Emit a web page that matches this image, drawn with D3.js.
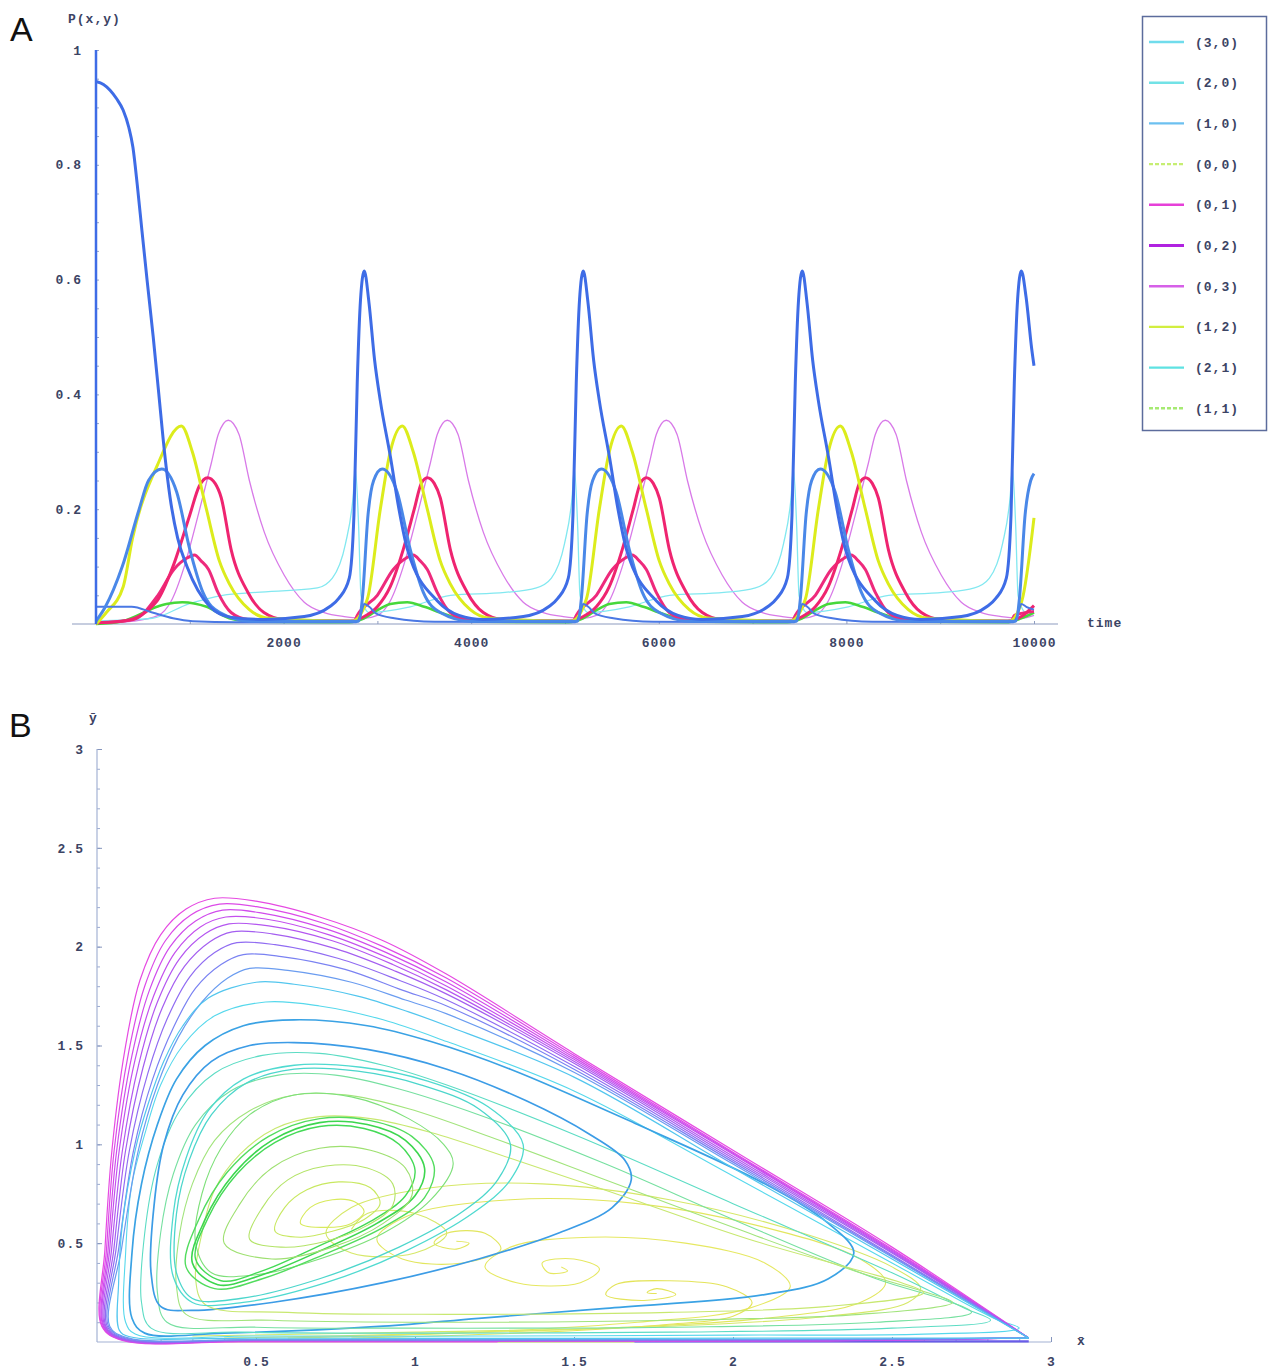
<!DOCTYPE html>
<html>
<head>
<meta charset="utf-8">
<script src="https://cdn.jsdelivr.net/npm/d3@7"></script>
<style>
  body { margin: 0; background: #fff; }
  text { font-family: "Liberation Mono", "DejaVu Sans Mono", monospace; font-size: 13px; font-weight: bold; fill: #3c4464; letter-spacing: 1px; }
  .panel { font-family: "Liberation Sans", Arial, sans-serif; font-size: 34px; font-weight: normal; fill: #111; letter-spacing: 0; }
</style>
</head>
<body>
<svg id="fig" width="1268" height="1372"></svg>
<script>
// ---------- panel A : P(x,y) against time ----------
const timeTicks = [2000, 4000, 6000, 8000, 10000];
const probTicks = [0.2, 0.4, 0.6, 0.8, 1];
const legendKeys = ["(3,0)", "(2,0)", "(1,0)", "(0,0)", "(0,1)", "(0,2)", "(0,3)", "(1,2)", "(2,1)", "(1,1)"];

const tallBlue = [[0,0.945],[80,0.94],[150,0.93],[220,0.915],[290,0.895],[350,0.865],[394,0.83],[440,0.765],[490,0.685],[544,0.6],[610,0.5],[670,0.4],[730,0.3],[790,0.22],[870,0.15],[970,0.1],[1215,0.03],[1430,0.012],[1790,0.008],[2220,0.013],[2490,0.03],[2590,0.045],[2700,0.08],[2750,0.19],[2785,0.42],[2820,0.565],[2860,0.615],[2910,0.56],[2970,0.46],[3030,0.39],[3140,0.29],[3230,0.2],[3320,0.13],[3640,0.04],[3870,0.015],[4125,0.008],[4555,0.013],[4825,0.03],[4925,0.045],[5035,0.08],[5085,0.19],[5120,0.42],[5155,0.565],[5195,0.615],[5245,0.56],[5305,0.46],[5365,0.39],[5475,0.29],[5565,0.2],[5655,0.13],[5975,0.04],[6205,0.015],[6460,0.008],[6890,0.013],[7160,0.03],[7260,0.045],[7370,0.08],[7420,0.19],[7455,0.42],[7490,0.565],[7530,0.615],[7580,0.56],[7640,0.46],[7700,0.39],[7810,0.29],[7900,0.2],[7990,0.13],[8310,0.04],[8540,0.015],[8795,0.008],[9225,0.013],[9495,0.03],[9595,0.045],[9705,0.08],[9755,0.19],[9790,0.42],[9825,0.565],[9865,0.615],[9915,0.57],[9975,0.48],[10000,0.45]];
const midBlue = [[0,0.005],[100,0.03],[280,0.1],[460,0.2],[560,0.25],[700,0.27],[860,0.23],[1000,0.13],[1140,0.055],[1320,0.02],[1640,0.005],[2800,0.005],[2840,0.045],[2900,0.19],[2960,0.25],[3050,0.27],[3210,0.23],[3350,0.13],[3490,0.055],[3670,0.02],[3990,0.005],[5135,0.005],[5175,0.045],[5235,0.19],[5295,0.25],[5385,0.27],[5545,0.23],[5685,0.13],[5825,0.055],[6005,0.02],[6325,0.005],[7470,0.005],[7510,0.045],[7570,0.19],[7630,0.25],[7720,0.27],[7880,0.23],[8020,0.13],[8160,0.055],[8340,0.02],[8660,0.005],[9805,0.005],[9845,0.045],[9905,0.19],[9965,0.25],[10000,0.262]];
const lowBlue = [[0,0.03],[380,0.03],[600,0.02],[820,0.01],[1030,0.005],[1500,0.003],[2775,0.003],[2828,0.02],[2860,0.035],[2913,0.03],[2988,0.018],[3180,0.01],[3606,0.004],[5110,0.003],[5163,0.02],[5195,0.035],[5248,0.03],[5323,0.018],[5515,0.01],[5941,0.004],[7445,0.003],[7498,0.02],[7530,0.035],[7583,0.03],[7658,0.018],[7850,0.01],[8276,0.004],[9780,0.003],[9833,0.02],[9865,0.035],[9918,0.03],[10000,0.025]];
const yellowSeries = [[0,0],[110,0.02],[290,0.065],[390,0.15],[650,0.275],[910,0.345],[1027,0.3],[1177,0.2],[1315,0.11],[1422,0.07],[1635,0.025],[1848,0.01],[2732,0.005],[2892,0.043],[3031,0.2],[3137,0.3],[3265,0.345],[3382,0.3],[3532,0.2],[3670,0.11],[3777,0.07],[3990,0.025],[4203,0.01],[5067,0.005],[5227,0.043],[5366,0.2],[5472,0.3],[5600,0.345],[5717,0.3],[5867,0.2],[6005,0.11],[6112,0.07],[6325,0.025],[6538,0.01],[7402,0.005],[7562,0.043],[7701,0.2],[7807,0.3],[7935,0.345],[8052,0.3],[8202,0.2],[8340,0.11],[8447,0.07],[8660,0.025],[8873,0.01],[9737,0.005],[9870,0.04],[10000,0.185]];
const pinkSeries = [[0,0.002],[300,0.005],[650,0.04],[820,0.1],[1000,0.19],[1100,0.24],[1190,0.255],[1270,0.245],[1335,0.22],[1440,0.13],[1620,0.055],[1790,0.02],[2020,0.007],[2711,0.005],[2860,0.013],[2999,0.03],[3137,0.065],[3276,0.13],[3393,0.2],[3468,0.245],[3532,0.255],[3606,0.245],[3670,0.22],[3777,0.13],[3958,0.055],[4129,0.02],[4352,0.007],[5046,0.005],[5195,0.013],[5334,0.03],[5472,0.065],[5611,0.13],[5728,0.2],[5803,0.245],[5867,0.255],[5941,0.245],[6005,0.22],[6112,0.13],[6293,0.055],[6464,0.02],[6687,0.007],[7381,0.005],[7530,0.013],[7669,0.03],[7807,0.065],[7946,0.13],[8063,0.2],[8138,0.245],[8202,0.255],[8276,0.245],[8340,0.22],[8447,0.13],[8628,0.055],[8799,0.02],[9022,0.007],[9716,0.005],[9865,0.013],[10000,0.032]];
const pinkLow = [[0,0.002],[400,0.008],[660,0.05],[830,0.095],[970,0.115],[1050,0.12],[1120,0.11],[1200,0.095],[1300,0.055],[1440,0.02],[1620,0.008],[2753,0.005],[2785,0.015],[2999,0.05],[3169,0.095],[3308,0.115],[3382,0.12],[3457,0.11],[3532,0.095],[3638,0.055],[3777,0.02],[3958,0.008],[5088,0.005],[5120,0.015],[5334,0.05],[5504,0.095],[5643,0.115],[5717,0.12],[5792,0.11],[5867,0.095],[5973,0.055],[6112,0.02],[6293,0.008],[7423,0.005],[7455,0.015],[7669,0.05],[7839,0.095],[7978,0.115],[8052,0.12],[8127,0.11],[8202,0.095],[8308,0.055],[8447,0.02],[8628,0.008],[9758,0.005],[9790,0.015],[10000,0.022]];
const violetSeries = [[0,0.001],[400,0.005],[664,0.015],[802,0.04],[941,0.1],[1090,0.19],[1229,0.28],[1303,0.33],[1410,0.355],[1525,0.33],[1635,0.25],[1794,0.16],[2007,0.085],[2220,0.038],[2433,0.02],[2646,0.013],[2860,0.01],[2999,0.015],[3137,0.04],[3276,0.1],[3425,0.19],[3564,0.28],[3638,0.33],[3745,0.355],[3860,0.33],[3970,0.25],[4129,0.16],[4342,0.085],[4555,0.038],[4768,0.02],[4981,0.013],[5195,0.01],[5334,0.015],[5472,0.04],[5611,0.1],[5760,0.19],[5899,0.28],[5973,0.33],[6080,0.355],[6195,0.33],[6305,0.25],[6464,0.16],[6677,0.085],[6890,0.038],[7103,0.02],[7316,0.013],[7530,0.01],[7669,0.015],[7807,0.04],[7946,0.1],[8095,0.19],[8234,0.28],[8308,0.33],[8415,0.355],[8530,0.33],[8640,0.25],[8799,0.16],[9012,0.085],[9225,0.038],[9438,0.02],[9651,0.013],[9865,0.01],[10000,0.015]];
const cyanSeries = [[0,0.005],[600,0.01],[990,0.035],[1350,0.05],[1710,0.055],[2360,0.063],[2520,0.08],[2660,0.14],[2740,0.22],[2765,0.27],[2800,0.17],[2825,0.05],[2860,0.03],[2910,0.02],[3350,0.03],[3780,0.05],[4360,0.055],[4695,0.063],[4855,0.08],[4995,0.14],[5075,0.22],[5100,0.27],[5135,0.17],[5160,0.05],[5195,0.03],[5245,0.02],[5685,0.03],[6115,0.05],[6695,0.055],[7030,0.063],[7190,0.08],[7330,0.14],[7410,0.22],[7435,0.27],[7470,0.17],[7495,0.05],[7530,0.03],[7580,0.02],[8020,0.03],[8450,0.05],[9030,0.055],[9365,0.063],[9525,0.08],[9665,0.14],[9745,0.22],[9770,0.27],[9805,0.17],[9830,0.05],[9865,0.03],[9915,0.02],[10000,0.022]];
const greenSeries = [[0,0],[280,0.005],[650,0.03],[750,0.035],[920,0.038],[1180,0.03],[1420,0.01],[1700,0.004],[2700,0.003],[2860,0.01],[3009,0.025],[3137,0.035],[3318,0.038],[3500,0.03],[3670,0.02],[3851,0.01],[4139,0.004],[5035,0.003],[5195,0.01],[5344,0.025],[5472,0.035],[5653,0.038],[5835,0.03],[6005,0.02],[6186,0.01],[6474,0.004],[7370,0.003],[7530,0.01],[7679,0.025],[7807,0.035],[7988,0.038],[8170,0.03],[8340,0.02],[8521,0.01],[8809,0.004],[9705,0.003],[9865,0.01],[10000,0.02]];

// ---------- panel B : phase plane (x bar, y bar) ----------
const phaseTicks = [0.5, 1, 1.5, 2, 2.5, 3];

// trajectories that run all the way into the corner at x+y=3
const cornerLoops = [
  [[2.93,0.02],[2.3,0.006],[1.4,0.004],[0.5,0.004],[0.08,0.008],[0.015,0.08],[0.025,0.47],[0.047,0.97],[0.088,1.48],[0.135,1.83],[0.2,2.06],[0.28,2.19],[0.37,2.245],[0.5,2.23],[0.7,2.15],[0.9,2.03],[1.1,1.86],[1.5,1.46],[2.0,0.97],[2.5,0.48],[2.93,0.02]],
  [[2.93,0.02],[2.3,0.007],[1.4,0.005],[0.5,0.005],[0.08,0.01],[0.017,0.08],[0.03,0.47],[0.054,0.97],[0.1,1.47],[0.15,1.8],[0.215,2.03],[0.295,2.16],[0.385,2.215],[0.51,2.2],[0.71,2.12],[0.9,2.0],[1.1,1.84],[1.5,1.45],[2.0,0.96],[2.5,0.47],[2.93,0.02]],
  [[2.93,0.02],[2.3,0.008],[1.4,0.006],[0.5,0.006],[0.08,0.012],[0.02,0.08],[0.035,0.47],[0.062,0.97],[0.11,1.45],[0.165,1.78],[0.23,2.0],[0.31,2.13],[0.395,2.185],[0.52,2.17],[0.72,2.09],[0.91,1.97],[1.1,1.82],[1.5,1.44],[2.0,0.955],[2.5,0.465],[2.93,0.02]],
  [[2.93,0.02],[2.3,0.009],[1.4,0.007],[0.5,0.007],[0.08,0.013],[0.022,0.08],[0.04,0.47],[0.07,0.97],[0.12,1.43],[0.178,1.75],[0.245,1.97],[0.325,2.1],[0.405,2.15],[0.53,2.14],[0.73,2.06],[0.92,1.94],[1.1,1.8],[1.5,1.43],[2.0,0.95],[2.5,0.46],[2.93,0.02]],
  [[2.93,0.02],[2.3,0.01],[1.4,0.008],[0.5,0.008],[0.08,0.015],[0.025,0.08],[0.046,0.47],[0.08,0.97],[0.132,1.41],[0.19,1.72],[0.26,1.94],[0.34,2.065],[0.415,2.115],[0.54,2.105],[0.74,2.03],[0.93,1.91],[1.1,1.78],[1.5,1.42],[2.0,0.94],[2.5,0.455],[2.93,0.02]],
  [[2.93,0.02],[2.3,0.011],[1.4,0.009],[0.5,0.009],[0.08,0.016],[0.028,0.08],[0.053,0.47],[0.09,0.97],[0.145,1.39],[0.205,1.69],[0.275,1.9],[0.355,2.025],[0.425,2.075],[0.55,2.065],[0.75,1.99],[0.94,1.875],[1.1,1.76],[1.5,1.41],[2.0,0.93],[2.5,0.45],[2.93,0.02]],
  [[2.93,0.02],[2.3,0.012],[1.4,0.01],[0.5,0.01],[0.085,0.018],[0.032,0.08],[0.06,0.47],[0.102,0.97],[0.16,1.36],[0.222,1.64],[0.293,1.85],[0.37,1.97],[0.44,2.02],[0.56,2.01],[0.76,1.94],[0.95,1.83],[1.1,1.73],[1.5,1.395],[2.0,0.92],[2.5,0.44],[2.93,0.02]],
  [[2.93,0.02],[2.3,0.013],[1.4,0.011],[0.5,0.011],[0.09,0.02],[0.036,0.08],[0.068,0.47],[0.115,0.97],[0.175,1.33],[0.24,1.59],[0.31,1.79],[0.39,1.91],[0.46,1.96],[0.58,1.95],[0.78,1.885],[0.96,1.78],[1.1,1.7],[1.5,1.38],[2.0,0.91],[2.5,0.435],[2.93,0.02]],
  [[2.93,0.02],[2.3,0.014],[1.4,0.012],[0.5,0.012],[0.095,0.022],[0.04,0.08],[0.077,0.47],[0.13,0.97],[0.19,1.3],[0.255,1.54],[0.33,1.72],[0.41,1.84],[0.48,1.89],[0.6,1.88],[0.8,1.82],[0.97,1.73],[1.1,1.66],[1.5,1.365],[2.0,0.9],[2.5,0.43],[2.93,0.02]],
  [[2.93,0.02],[2.3,0.02],[1.4,0.018],[0.5,0.02],[0.1,0.028],[0.07,0.06],[0.068,0.3],[0.08,0.6],[0.12,0.97],[0.16,1.2],[0.21,1.42],[0.27,1.6],[0.35,1.74],[0.5,1.82],[0.62,1.81],[0.82,1.75],[0.98,1.67],[1.1,1.6],[1.5,1.34],[2.0,0.88],[2.5,0.42],[2.93,0.02]]
];
const cornerColors = ["#e64ae2", "#dc4ae8", "#d04cec", "#c450ee", "#b456f0", "#a45ef0", "#906cf2", "#7a82f2", "#6a9cf0", "#52c6ee"];

// trajectories that turn back before the corner (closed loops)
const innerLoops = [
  [[2.9,0.07],[2.6,0.04],[2.0,0.035],[1.2,0.03],[0.5,0.03],[0.12,0.04],[0.09,0.1],[0.09,0.45],[0.11,0.8],[0.15,1.05],[0.2,1.3],[0.27,1.5],[0.37,1.65],[0.53,1.72],[0.7,1.7],[0.9,1.63],[1.1,1.52],[1.5,1.27],[2.0,0.84],[2.5,0.4],[2.82,0.12]],
  [[2.38,0.45],[2.3,0.32],[2.1,0.24],[1.6,0.17],[1.2,0.12],[0.9,0.08],[0.4,0.045],[0.15,0.045],[0.11,0.12],[0.11,0.45],[0.14,0.8],[0.19,1.1],[0.25,1.33],[0.34,1.5],[0.46,1.6],[0.62,1.63],[0.85,1.6],[1.05,1.52],[1.3,1.38],[1.7,1.1],[2.1,0.8],[2.3,0.6]],
  [[2.81,0.11],[2.5,0.07],[1.8,0.05],[1.0,0.045],[0.45,0.05],[0.17,0.07],[0.14,0.2],[0.15,0.55],[0.19,0.9],[0.26,1.17],[0.37,1.36],[0.52,1.45],[0.7,1.46],[0.9,1.4],[1.1,1.3],[1.5,1.05],[2.0,0.7],[2.5,0.35],[2.73,0.17]],
  [[2.75,0.15],[2.45,0.1],[1.8,0.075],[1.0,0.07],[0.5,0.075],[0.22,0.1],[0.19,0.25],[0.2,0.55],[0.24,0.85],[0.31,1.1],[0.42,1.27],[0.57,1.35],[0.75,1.35],[0.95,1.28],[1.2,1.15],[1.6,0.9],[2.0,0.62],[2.45,0.32],[2.67,0.21]],
  [[1.68,0.82],[1.62,0.68],[1.45,0.55],[1.2,0.42],[0.9,0.3],[0.55,0.2],[0.3,0.16],[0.2,0.18],[0.17,0.35],[0.18,0.7],[0.21,1.0],[0.27,1.25],[0.36,1.42],[0.48,1.5],[0.62,1.515],[0.85,1.48],[1.1,1.38],[1.35,1.22],[1.55,1.05],[1.66,0.92]],
  [[2.69,0.2],[2.4,0.14],[1.8,0.11],[1.0,0.1],[0.55,0.11],[0.28,0.14],[0.25,0.28],[0.26,0.55],[0.3,0.8],[0.37,1.02],[0.48,1.17],[0.62,1.25],[0.78,1.25],[0.98,1.18],[1.25,1.03],[1.6,0.82],[2.0,0.58],[2.4,0.35],[2.61,0.25]],
  [[2.6,0.25],[2.3,0.18],[1.8,0.15],[1.1,0.14],[0.6,0.15],[0.34,0.19],[0.31,0.32],[0.33,0.55],[0.37,0.77],[0.45,0.95],[0.56,1.08],[0.7,1.14],[0.86,1.13],[1.05,1.06],[1.3,0.93],[1.65,0.74],[2.05,0.52],[2.4,0.36],[2.53,0.3]],
  [[1.3,1.0],[1.26,0.82],[1.15,0.66],[0.95,0.48],[0.7,0.32],[0.45,0.22],[0.3,0.22],[0.25,0.35],[0.25,0.65],[0.29,0.92],[0.36,1.15],[0.47,1.31],[0.62,1.38],[0.82,1.37],[1.02,1.3],[1.2,1.18]],
  [[1.34,1.0],[1.3,0.82],[1.18,0.65],[0.97,0.46],[0.72,0.3],[0.46,0.2],[0.3,0.2],[0.24,0.33],[0.24,0.65],[0.28,0.93],[0.35,1.17],[0.46,1.33],[0.62,1.4],[0.83,1.39],[1.04,1.32],[1.23,1.19]],
  [[1.12,0.9],[1.05,0.72],[0.9,0.55],[0.7,0.42],[0.5,0.34],[0.36,0.35],[0.31,0.5],[0.33,0.75],[0.39,0.98],[0.48,1.15],[0.62,1.25],[0.8,1.24],[0.98,1.13],[1.09,1.0]],
  [[0.3,0.4],[0.34,0.62],[0.43,0.85],[0.55,1.02],[0.7,1.11],[0.85,1.1],[0.97,1.02],[1.03,0.88],[1.0,0.74],[0.88,0.6],[0.7,0.46],[0.52,0.34],[0.38,0.29]],
  [[0.31,0.42],[0.35,0.63],[0.44,0.85],[0.56,1.01],[0.7,1.09],[0.84,1.08],[0.95,1.0],[1.0,0.87],[0.97,0.74],[0.86,0.61],[0.69,0.48],[0.52,0.36],[0.39,0.31]],
  [[0.28,0.38],[0.32,0.62],[0.41,0.86],[0.54,1.04],[0.7,1.13],[0.86,1.12],[0.99,1.04],[1.06,0.89],[1.03,0.73],[0.9,0.58],[0.71,0.44],[0.52,0.32],[0.37,0.27]],
  [[0.4,0.5],[0.45,0.7],[0.55,0.88],[0.7,0.98],[0.86,0.97],[0.97,0.88],[0.99,0.74],[0.9,0.6],[0.74,0.48],[0.55,0.42]],
  [[0.48,0.52],[0.52,0.68],[0.6,0.82],[0.72,0.89],[0.85,0.88],[0.93,0.8],[0.93,0.69],[0.85,0.59],[0.72,0.51],[0.58,0.48]],
  [[0.56,0.56],[0.59,0.68],[0.66,0.77],[0.76,0.81],[0.86,0.78],[0.89,0.7],[0.84,0.62],[0.74,0.56],[0.64,0.53]],
  [[0.64,0.6],[0.67,0.68],[0.74,0.72],[0.81,0.71],[0.84,0.66],[0.8,0.6],[0.72,0.58]]
];
const innerColors = ["#56d8ec", "#3aa2e4", "#5cdcc4", "#76e0a0", "#3c9ce6", "#a2e47c", "#c8e870", "#4cd6cc", "#50dad0", "#7ee07a", "#3cd64e", "#44da56", "#52dc5e", "#9ee070", "#b4e468", "#c8e860", "#d8ea5c"];
const innerWidths = [1.1, 1.7, 1.1, 1.1, 1.7, 1.1, 1.1, 1.3, 1.3, 1.1, 1.6, 1.4, 1.4, 1.1, 1.1, 1.1, 1.1];

// trajectories that settle into small spirals
const spiralPaths = [
  [[0.4,0.02],[1.0,0.04],[1.6,0.07],[2.1,0.12],[2.4,0.2],[2.48,0.3],[2.4,0.42],[2.1,0.58],[1.7,0.7],[1.3,0.72],[0.98,0.64],[0.88,0.52],[0.96,0.42],[1.15,0.4],[1.27,0.47],[1.22,0.55],[1.1,0.55],[1.06,0.5],[1.13,0.47],[1.17,0.5],[1.13,0.51]],
  [[0.6,0.02],[1.2,0.05],[1.7,0.1],[2.05,0.17],[2.18,0.28],[2.1,0.4],[1.85,0.5],[1.55,0.53],[1.3,0.48],[1.22,0.38],[1.32,0.3],[1.52,0.3],[1.58,0.37],[1.5,0.42],[1.4,0.4],[1.42,0.35],[1.48,0.36],[1.46,0.38]],
  [[0.8,0.02],[1.4,0.05],[1.8,0.09],[2.0,0.13],[2.06,0.2],[1.98,0.28],[1.8,0.31],[1.63,0.29],[1.6,0.24],[1.72,0.21],[1.82,0.24],[1.76,0.27],[1.73,0.25],[1.76,0.245]],
  [[0.3,0.03],[1.0,0.05],[1.8,0.08],[2.3,0.13],[2.55,0.2],[2.59,0.27],[2.5,0.38],[2.2,0.56],[1.8,0.72],[1.4,0.8],[1.05,0.78],[0.8,0.68],[0.72,0.55],[0.8,0.45],[1.0,0.45],[1.1,0.55],[1.0,0.65],[0.85,0.65],[0.8,0.57]]
];
const spiralColors = ["#e2e65e", "#e6e862", "#e4e45a", "#d6e868"];

// coloured stretches lying on the x axis
const axisStretches = [[[0.32,0.003],[1.26,0.003]], [[1.26,0.003],[1.69,0.003]], [[1.69,0.003],[2.93,0.003]]];
const axisStretchColors = ["#f058c4", "#cfe86a", "#6a5ce8"];

// ---------------- drawing ----------------
const svg = d3.select('#fig');
svg.append('rect').attr('width', 1268).attr('height', 1372).attr('fill', '#fff');

const xA = d3.scaleLinear().domain([0, 10000]).range([96, 1034]);
const yA = d3.scaleLinear().domain([0, 1]).range([624, 50]);

const gA = svg.append('g');

svg.append('text').attr('class', 'panel').attr('x', 10).attr('y', 41).text('A');

// x axis of A
gA.append('line')
    .attr('x1', 72).attr('x2', 1058).attr('y1', yA(0)).attr('y2', yA(0))
    .attr('stroke', '#8e9cc0').attr('stroke-width', 1.2);
const axAx = gA.append('g').attr('transform', `translate(0, ${yA(0)})`)
    .call(d3.axisTop(xA).tickValues(d3.range(1000, 10001, 1000)).tickSize(3).tickFormat(''));
axAx.select('.domain').remove();
axAx.selectAll('line').attr('stroke', '#8e9cc0');
const axAxLab = gA.append('g').attr('transform', `translate(0, ${yA(0)})`)
    .call(d3.axisBottom(xA).tickValues(timeTicks).tickSize(0).tickPadding(14).tickFormat(d3.format('d')));
axAxLab.select('.domain').remove();
axAxLab.selectAll('text').attr('font-size', 13).attr('font-family', null).attr('fill', null);

// y axis of A
const axAy = gA.append('g').attr('transform', `translate(${xA(0)}, 0)`)
    .call(d3.axisRight(yA).tickValues(d3.range(0.05, 1.001, 0.05)).tickSize(3).tickFormat(''));
axAy.select('.domain').remove();
axAy.selectAll('line').attr('stroke', '#9aa6c6');
const axAyLab = gA.append('g').attr('transform', `translate(${xA(0)}, 0)`)
    .call(d3.axisLeft(yA).tickValues(probTicks).tickSize(0).tickPadding(14)
        .tickFormat(d => d === 1 ? '1' : d3.format('.1f')(d)));
axAyLab.select('.domain').remove();
axAyLab.selectAll('text').attr('font-size', 13).attr('font-family', null).attr('fill', null);

gA.append('text').attr('x', 68).attr('y', 23).attr('font-size', 12).text('P(x,y)');
gA.append('text').attr('x', 1087).attr('y', 627).text('time');

const lineA = d3.line().x(d => xA(d[0])).y(d => yA(d[1])).curve(d3.curveMonotoneX);

const seriesA = [
  { data: violetSeries, color: '#d87ae8', w: 1.3 },
  { data: cyanSeries, color: '#82e8f0', w: 1.3 },
  { data: greenSeries, color: '#46d83a', w: 2.6 },
  { data: pinkLow, color: '#ee2a7c', w: 3 },
  { data: pinkSeries, color: '#ef2470', w: 3 },
  { data: yellowSeries, color: '#dcec1c', w: 3 },
  { data: lowBlue, color: '#4a78e4', w: 2 },
  { data: midBlue, color: '#4a88e8', w: 3 },
  { data: tallBlue, color: '#3e6ce6', w: 3 }
];
gA.selectAll('path.series')
    .data(seriesA)
    .enter()
    .append('path')
    .attr('class', 'series')
    .attr('fill', 'none')
    .attr('stroke', d => d.color)
    .attr('stroke-width', d => d.w)
    .attr('stroke-linejoin', 'round')
    .attr('d', d => lineA(d.data));

// blue vertical axis line (drawn over the start of the curves)
gA.append('line')
    .attr('x1', xA(0)).attr('x2', xA(0)).attr('y1', yA(0)).attr('y2', yA(1))
    .attr('stroke', '#3e6ce6').attr('stroke-width', 2.5);

// legend
const legendColors = ['#70dcec', '#72e2e6', '#6cc0f0', '#c6ee72', '#e640d8', '#b022e0', '#d660e8', '#d2ee40', '#5ee2e2', '#a6ea72'];
const legend = svg.append('g');
legend.append('rect')
    .attr('x', 1142.5).attr('y', 16.5).attr('width', 124).attr('height', 414)
    .attr('fill', '#fff').attr('stroke', '#5c6c9c').attr('stroke-width', 1.5);
const legendRows = legend.selectAll('g.row')
    .data(legendKeys)
    .enter()
    .append('g')
    .attr('class', 'row')
    .attr('transform', (d, i) => `translate(0, ${42 + i * 40.7})`);
legendRows.append('line')
    .attr('x1', 1149).attr('x2', 1184).attr('y1', 0).attr('y2', 0)
    .attr('stroke', (d, i) => legendColors[i])
    .attr('stroke-width', (d, i) => i === 5 ? 3.2 : 2.4)
    .attr('stroke-dasharray', (d, i) => (i === 3 || i === 9) ? '4 2' : null);
legendRows.append('text')
    .attr('x', 1195).attr('y', 4.5)
    .text(d => d);

// ---------------- panel B ----------------
const xB = d3.scaleLinear().domain([0, 3]).range([97, 1051]);
const yB = d3.scaleLinear().domain([0, 3]).range([1342, 749]);
const gB = svg.append('g');

svg.append('text').attr('class', 'panel').attr('x', 9).attr('y', 737).text('B');

const axBx = gB.append('g').attr('transform', `translate(0, ${yB(0)})`)
    .call(d3.axisTop(xB).tickValues(d3.range(0.1, 3.001, 0.1)).tickSize(3).tickFormat(''));
axBx.selectAll('line').attr('stroke', '#9cabd0');
axBx.select('.domain').remove();
const axBxMaj = gB.append('g').attr('transform', `translate(0, ${yB(0)})`)
    .call(d3.axisTop(xB).tickValues(phaseTicks).tickSize(5).tickFormat(''));
axBxMaj.selectAll('line').attr('stroke', '#8494bc');
axBxMaj.select('.domain').remove();
const axBxLab = gB.append('g').attr('transform', `translate(0, ${yB(0)})`)
    .call(d3.axisBottom(xB).tickValues(phaseTicks).tickSize(0).tickPadding(15).tickFormat(d3.format('~g')));
axBxLab.select('.domain').remove();
axBxLab.selectAll('text').attr('font-size', 13).attr('font-family', null).attr('fill', null);

const axBy = gB.append('g').attr('transform', `translate(${xB(0)}, 0)`)
    .call(d3.axisRight(yB).tickValues(d3.range(0.1, 3.001, 0.1)).tickSize(3).tickFormat(''));
axBy.selectAll('line').attr('stroke', '#9cabd0');
axBy.select('.domain').remove();
const axByMaj = gB.append('g').attr('transform', `translate(${xB(0)}, 0)`)
    .call(d3.axisRight(yB).tickValues(phaseTicks).tickSize(5).tickFormat(''));
axByMaj.selectAll('line').attr('stroke', '#8494bc');
axByMaj.select('.domain').remove();
const axByLab = gB.append('g').attr('transform', `translate(${xB(0)}, 0)`)
    .call(d3.axisLeft(yB).tickValues(phaseTicks).tickSize(0).tickPadding(13).tickFormat(d3.format('~g')));
axByLab.select('.domain').remove();
axByLab.selectAll('text').attr('font-size', 13).attr('font-family', null).attr('fill', null);

gB.append('line').attr('x1', xB(0)).attr('x2', xB(3)).attr('y1', yB(0)).attr('y2', yB(0))
    .attr('stroke', '#a4b2d4').attr('stroke-width', 1.2);
gB.append('line').attr('x1', xB(0)).attr('x2', xB(0)).attr('y1', yB(0)).attr('y2', yB(3))
    .attr('stroke', '#a4b2d4').attr('stroke-width', 1.2);

gB.append('text').attr('x', 89).attr('y', 722).text('\u0233');
gB.append('text').attr('x', 1077).attr('y', 1345).text('x\u0304');

const lineB = d3.line().x(d => xB(d[0])).y(d => yB(d[1])).curve(d3.curveCatmullRom.alpha(0.5));
const loopB = d3.line().x(d => xB(d[0])).y(d => yB(d[1])).curve(d3.curveCatmullRomClosed.alpha(0.5));

gB.selectAll('path.stretch')
    .data(axisStretches)
    .enter()
    .append('path')
    .attr('class', 'stretch')
    .attr('fill', 'none')
    .attr('stroke', (d, i) => axisStretchColors[i])
    .attr('stroke-width', 2.2)
    .attr('d', d => lineB(d));

gB.selectAll('path.spiral')
    .data(spiralPaths)
    .enter()
    .append('path')
    .attr('class', 'spiral')
    .attr('fill', 'none')
    .attr('stroke', (d, i) => spiralColors[i])
    .attr('stroke-width', 1.1)
    .attr('d', d => lineB(d));

gB.selectAll('path.inner')
    .data(innerLoops)
    .enter()
    .append('path')
    .attr('class', 'inner')
    .attr('fill', 'none')
    .attr('stroke', (d, i) => innerColors[i])
    .attr('stroke-width', (d, i) => innerWidths[i])
    .attr('d', d => loopB(d));

gB.selectAll('path.corner')
    .data(cornerLoops)
    .enter()
    .append('path')
    .attr('class', 'corner')
    .attr('fill', 'none')
    .attr('stroke', (d, i) => cornerColors[i])
    .attr('stroke-width', 1.2)
    .attr('stroke-linejoin', 'round')
    .attr('d', d => lineB(d));
</script>
</body>
</html>
